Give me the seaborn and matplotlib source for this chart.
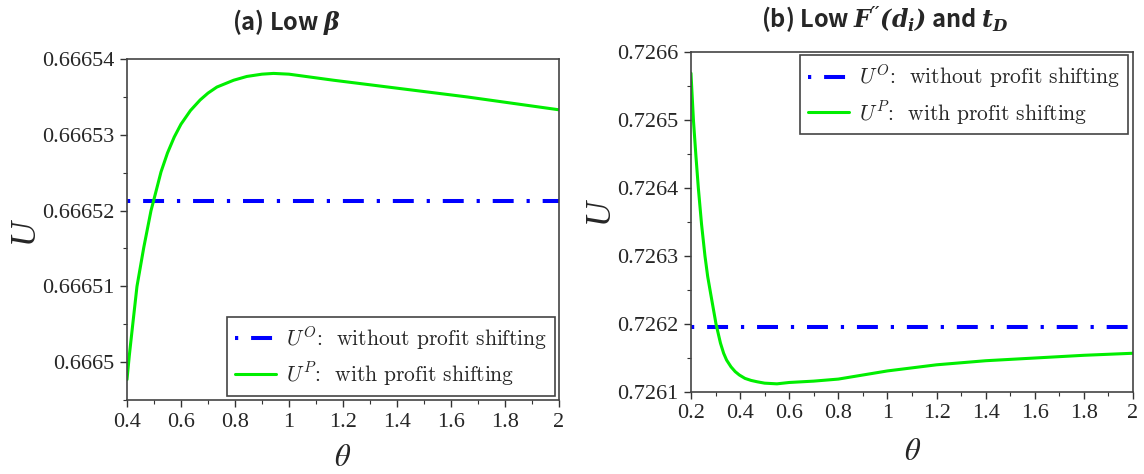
import numpy as np
import pandas as pd
import matplotlib
matplotlib.use("Agg")
import matplotlib.pyplot as plt
from matplotlib.ticker import FuncFormatter, MultipleLocator
from matplotlib.font_manager import FontProperties
import seaborn as sns

# (a) Low beta
theta_a = [0.4, 0.409, 0.422, 0.437, 0.462, 0.489, 0.5, 0.526, 0.55, 0.575,
           0.6, 0.635, 0.671, 0.7, 0.733, 0.795, 0.844, 0.9, 0.943, 1.0,
           1.165, 1.412, 1.659, 2.0]
U_p_a = [0.6664977, 0.666501, 0.6665052, 0.66651, 0.6665151, 0.66652, 0.6665215,
         0.6665251, 0.6665276, 0.6665297, 0.6665314, 0.6665332, 0.6665346,
         0.6665355, 0.6665363, 0.6665372, 0.6665377, 0.666538, 0.6665381,
         0.666538, 0.6665372, 0.6665361, 0.666535, 0.6665333]
theta_o_a = [0.4, 2.0]
U_o_a = [0.6665213, 0.6665213]

# (b) Low F''(d_i) and t_D
theta_b = [0.2, 0.21, 0.22, 0.23, 0.243, 0.257, 0.268, 0.28, 0.302, 0.32,
           0.333, 0.345, 0.363, 0.38, 0.397, 0.42, 0.445, 0.47, 0.5, 0.55,
           0.6, 0.7, 0.8, 1.0, 1.2, 1.4, 1.6, 1.8, 2.0]
U_p_b = [0.726569, 0.7265, 0.726448, 0.7264, 0.726347, 0.7263, 0.72627,
         0.726245, 0.7262, 0.726172, 0.726157, 0.726147, 0.726137, 0.72613,
         0.726125, 0.72612, 0.726117, 0.726115, 0.726113, 0.726112, 0.726114,
         0.726116, 0.726119, 0.726131, 0.72614, 0.726146, 0.72615, 0.726154,
         0.726157]
theta_o_b = [0.2, 2.0]
U_o_b = [0.726196, 0.726196]

yticks_a = [0.6665, 0.66651, 0.66652, 0.66653, 0.66654]
yticks_b = [0.7261, 0.7262, 0.7263, 0.7264, 0.7265, 0.7266]

label_o = r"$U^{O}\text{:  without profit shifting}$"
label_p = r"$U^{P}\text{:  with profit shifting}$"

sns.set_style("ticks")
plt.rcParams['font.family'] = ['Liberation Serif', 'DejaVu Serif']
plt.rcParams['mathtext.bf'] = 'DejaVu Serif:italic:bold'

fig = plt.figure(figsize=(11.44, 4.74), dpi=100)
ax1 = fig.add_axes([0.111, 0.156, 0.3776, 0.7195])
ax2 = fig.add_axes([0.604, 0.173, 0.3864, 0.717])

blue_ls = (0, (0.8, 3.2, 5.2, 3.2))


def draw(ax, th, up, tho, uo, xlim, ylim, yticks, xstart, legloc, anchor):
    df_o = pd.DataFrame({"theta": tho, "U": uo})
    df_p = pd.DataFrame({"theta": th, "U": up})
    sns.lineplot(data=df_o, x="theta", y="U", ax=ax, color="#0000ff",
                 linewidth=2.9, linestyle=blue_ls, label=label_o)
    sns.lineplot(data=df_p, x="theta", y="U", ax=ax, color="#00ee00",
                 linewidth=2.2, label=label_p)
    ax.set_xlim(*xlim)
    ax.set_ylim(*ylim)
    ax.set_yticks(yticks)
    ax.set_xticks(np.round(np.arange(xstart, 2.0001, 0.2), 2))
    ax.xaxis.set_minor_locator(MultipleLocator(0.1))
    ax.yaxis.set_minor_locator(MultipleLocator(0.000005 if ylim[1] < 0.7 else 0.00005))
    fmt = FuncFormatter(lambda v, p: "%g" % v)
    ax.xaxis.set_major_formatter(fmt)
    ax.yaxis.set_major_formatter(fmt)
    ax.tick_params(which="major", direction="out", length=5, width=1,
                   labelsize=16, color="#333333", pad=4)
    ax.tick_params(which="minor", direction="out", length=3, width=0.8,
                   color="#333333")
    for s in ax.spines.values():
        s.set_visible(True)
        s.set_color("#444444")
        s.set_linewidth(1.2)
    ax.set_xlabel("")
    ax.set_ylabel("")
    prop = FontProperties(size=15.5, math_fontfamily="cm")
    leg = ax.legend(loc=legloc, bbox_to_anchor=anchor, borderaxespad=0,
                    prop=prop, frameon=True, fancybox=False, framealpha=1,
                    edgecolor="#444444", handlelength=1.9, handletextpad=0.5,
                    labelspacing=0.4, borderpad=0.35)
    leg.get_frame().set_linewidth(1.2)


draw(ax1, theta_a, U_p_a, theta_o_a, U_o_a, (0.4, 2.0), (0.666495, 0.66654),
     yticks_a, 0.4, "lower right", (0.991, 0.013))
draw(ax2, theta_b, U_p_b, theta_o_b, U_o_b, (0.2, 2.0), (0.7261, 0.7266),
     yticks_b, 0.2, "upper right", (0.989, 0.991))

# axis labels
fig.text(24 / 1144, 1 - 230 / 474, "U", fontsize=25, fontstyle="italic",
         rotation=90, ha="center", va="center")
fig.text(599 / 1144, 1 - 210 / 474, "U", fontsize=25, fontstyle="italic",
         rotation=90, ha="center", va="center")
fig.text(343 / 1144, 1 - 458 / 474, r"$\theta$", fontsize=22,
         ha="center", va="center", math_fontfamily="stix")
fig.text(913 / 1144, 1 - 452 / 474, r"$\theta$", fontsize=22,
         ha="center", va="center", math_fontfamily="stix")

# panel titles
title_font = ['Noto Sans CJK JP', 'DejaVu Sans']
fig.text(286 / 1144, 1 - 22 / 474, r"(a) Low $\mathbf{\beta}$", fontsize=17,
         fontweight="bold", family=title_font, ha="center", va="center",
         math_fontfamily="custom")
fig.text(885 / 1144, 1 - 20 / 474,
         r"(b) Low $\mathbf{F^{\prime\prime}(d_i)}$ and $\mathbf{t_D}$",
         fontsize=17, fontweight="bold", family=title_font, ha="center",
         va="center", math_fontfamily="custom")

fig.savefig("out.png", dpi=100)
